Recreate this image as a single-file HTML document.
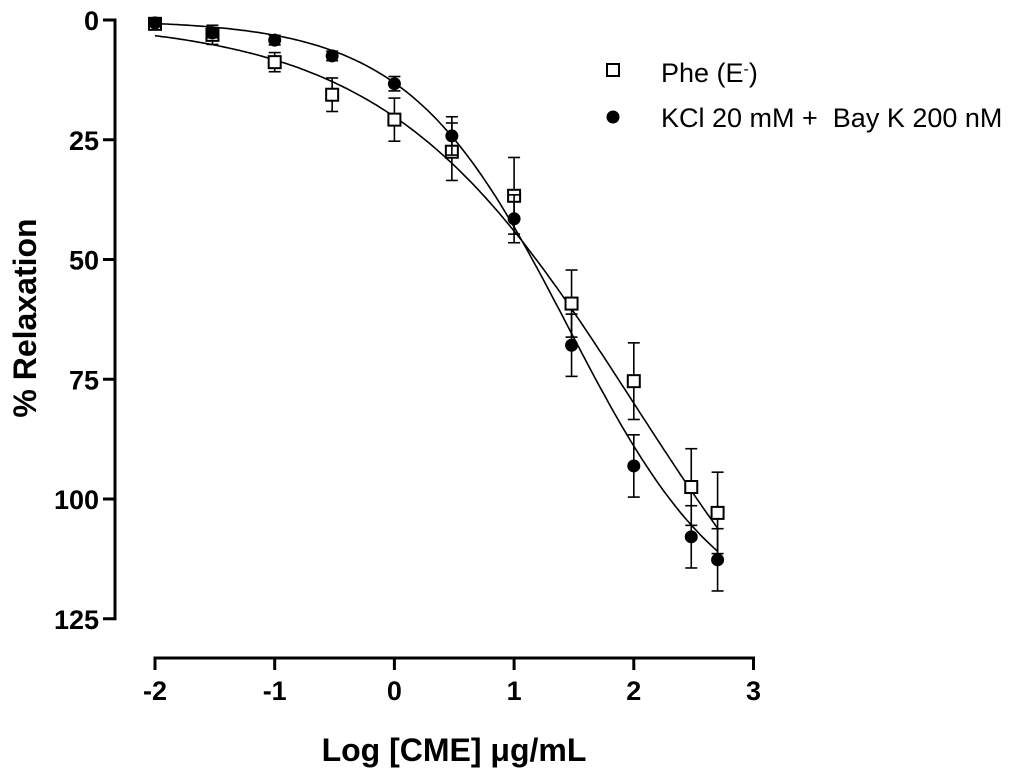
<!DOCTYPE html>
<html><head><meta charset="utf-8"><style>
body{margin:0;background:#fff;}
svg{display:block;font-family:"Liberation Sans",Arial,sans-serif;}
</style></head><body>
<svg id="chart" width="1024" height="780">
<g id="axes"></g>
<g id="curves"></g>
<g id="marks"></g>
<text x="36" y="318" transform="rotate(-90 36 318)" text-anchor="middle" font-weight="bold" font-size="32">% Relaxation</text>
<text x="454" y="761" text-anchor="middle" font-weight="bold" font-size="32">Log [CME] μg/mL</text>
<g>
<rect x="607" y="64" width="12" height="12" fill="#fff" stroke="#000" stroke-width="2"/>
<text x="661" y="82" font-size="27">Phe (E<tspan baseline-shift="super" font-size="16">-</tspan>)</text>
<circle cx="613" cy="117" r="6.5" fill="#000"/>
<text x="661" y="127" font-size="27" xml:space="preserve">KCl 20 mM +  Bay K 200 nM</text>
</g>
</svg>
<script>
const xVals=[-2,-1.52,-1,-0.52,0,0.48,1,1.48,2,2.48,2.7];
const pheMean=[0.8,3.1,8.8,15.6,20.8,27.5,36.7,59.2,75.4,97.5,102.9];
const pheErr=[0.5,2,2,3.5,4.5,6,8,7,8,8,8.5];
const kclMean=[0.6,2.7,4.2,7.5,13.3,24.2,41.5,67.9,93.1,107.9,112.7];
const kclErr=[0.5,1,1,1,1.5,4,5,6.5,6.5,6.5,6.5];
const xTicks=[-2,-1,0,1,2,3];
const yTicks=[0,25,50,75,100,125];
const pheFit=[160,2.0,0.42];
const kclFit=[128,1.45,0.65];
const NS="http://www.w3.org/2000/svg";
const X=v=>155+(v+2)*119.7;
const Y=v=>20+v*4.79;
function mk(t,a,p){const e=document.createElementNS(NS,t);for(const k in a)e.setAttribute(k,a[k]);p.appendChild(e);return e;}
const ax=document.getElementById('axes');
let e=mk('line',{x1:115,y1:Y(0)-1.5,x2:115,y2:Y(125)+1.5,stroke:'#000','stroke-width':3},ax);


e=mk('line',{x1:X(-2)-1.5,y1:658,x2:X(3)+1.5,y2:658,stroke:'#000','stroke-width':3},ax);


yTicks.forEach(t=>{
 mk('line',{x1:103,y1:Y(t),x2:115,y2:Y(t),stroke:'#000','stroke-width':3},ax);
 const tx=mk('text',{x:99,y:Y(t)+10,'text-anchor':'end','font-size':27,'font-weight':'bold'},ax);tx.textContent=t;
 
 
});
xTicks.forEach(t=>{
 mk('line',{x1:X(t),y1:658,x2:X(t),y2:670,stroke:'#000','stroke-width':3},ax);
 const tx=mk('text',{x:X(t),y:700,'text-anchor':'middle','font-size':27,'font-weight':'bold'},ax);tx.textContent=t;
 
 
});
const cv=document.getElementById('curves');
function curve(p,name){let d='';for(let i=0;i<=200;i++){const x=-2+4.7*i/200;const y=p[0]/(1+Math.pow(10,p[2]*(p[1]-x)));d+=(i?'L':'M')+X(x).toFixed(1)+','+Y(y).toFixed(1);}
 const c=mk('path',{d:d,fill:'none',stroke:'#000','stroke-width':1.6},cv);
 
 }
curve(pheFit,'phe-fit-curve');curve(kclFit,'kcl-fit-curve');
const mg=document.getElementById('marks');
function series(m,er,sq,name){xVals.forEach((x,i)=>{
 const cx=X(x),cy=Y(m[i]),y1=Y(m[i]-er[i]),y2=Y(m[i]+er[i]);
 mk('line',{x1:cx,y1:y1,x2:cx,y2:y2,stroke:'#000','stroke-width':1.6},mg);
 mk('line',{x1:cx-6,y1:y1,x2:cx+6,y2:y1,stroke:'#000','stroke-width':1.6},mg);
 mk('line',{x1:cx-6,y1:y2,x2:cx+6,y2:y2,stroke:'#000','stroke-width':1.6},mg);
 let p;
 if(sq)p=mk('rect',{x:cx-6,y:cy-6,width:12,height:12,fill:'#fff',stroke:'#000','stroke-width':2},mg);
 else p=mk('circle',{cx:cx,cy:cy,r:6.5,fill:'#000'},mg);
 
 
});}
series(pheMean,pheErr,true,'phe-point');
series(kclMean,kclErr,false,'kcl-point');
</script>
</body></html>
